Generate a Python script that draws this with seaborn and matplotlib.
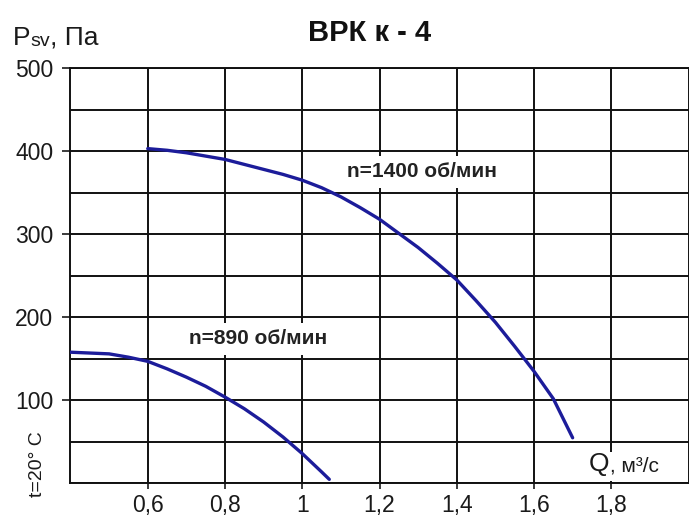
import numpy as np
import pandas as pd
import matplotlib
matplotlib.use("Agg")
import matplotlib.pyplot as plt
from matplotlib.ticker import MultipleLocator
import seaborn as sns

# fan curve at n=1400 rpm
q_1400 = [0.60, 0.65, 0.70, 0.75, 0.80, 0.85, 0.90, 0.95, 1.00, 1.05, 1.10, 1.15,
          1.20, 1.25, 1.30, 1.35, 1.40, 1.45, 1.50, 1.55, 1.60, 1.65, 1.70]
p_1400 = [403, 401, 398, 394, 390, 384, 378, 372, 365, 356, 345, 332,
          318, 301, 284, 265, 245, 220, 194, 165, 135, 102, 55]

# fan curve at n=890 rpm
q_890 = [0.40, 0.45, 0.50, 0.55, 0.60, 0.65, 0.70, 0.75, 0.80, 0.85, 0.90, 0.95, 1.00, 1.05, 1.07]
p_890 = [158, 157, 156, 152, 147, 138, 128, 117, 104, 90, 74, 56, 36, 14, 5]

x_ticks = [0.6, 0.8, 1.0, 1.2, 1.4, 1.6, 1.8]
x_labels = ["0,6", "0,8", "1", "1,2", "1,4", "1,6", "1,8"]
y_ticks = [100, 200, 300, 400, 500]
y_labels = ["100", "200", "300", "400", "500"]

df = pd.concat([
    pd.DataFrame({"Q": q_1400, "P": p_1400, "n": "1400"}),
    pd.DataFrame({"Q": q_890, "P": p_890, "n": "890"}),
])

sns.set_style("white")
plt.rcParams["font.family"] = ["Liberation Sans", "DejaVu Sans"]

line_col = "#1c1c9a"
ink = "#1a1a1a"

fig = plt.figure(figsize=(6.89, 5.2), dpi=100)
ax = fig.add_axes([0.1023, 0.0702, 0.8970, 0.799])

sns.lineplot(data=df, x="Q", y="P", hue="n", palette=[line_col, line_col],
             linewidth=2.4, legend=False, ax=ax, zorder=5, sort=False)

ax.set_xlim(0.4, 2.0)
ax.set_ylim(0, 500)
ax.set_xticks(x_ticks)
ax.set_xticklabels(x_labels)
ax.set_yticks(y_ticks)
ax.set_yticklabels(y_labels)
ax.yaxis.set_minor_locator(MultipleLocator(50))
ax.set_axisbelow(True)
ax.grid(True, which="both", color="#111111", linewidth=1.4)
ax.tick_params(axis="y", which="major", direction="out", length=5.8, width=1.2,
               pad=6.5, labelsize=16.5, colors=ink, left=True)
ax.tick_params(axis="y", which="minor", length=0)
ax.tick_params(axis="x", which="major", direction="out", length=4.3, width=1.2,
               pad=3.6, labelsize=16.5, colors=ink, bottom=True)
ax.set_xlabel("")
ax.set_ylabel("")
for s in ax.spines.values():
    s.set_visible(True)
    s.set_color("#111111")
    s.set_linewidth(1.4)

box = dict(boxstyle="square,pad=0.3", fc="white", ec="none")
ax.text(1.311, 375, "n=1400 об/мин", fontsize=15, fontweight="bold", color="#222222",
        ha="center", va="center", bbox=box, zorder=2)
ax.text(0.886, 174, "n=890 об/мин", fontsize=15, fontweight="bold", color="#222222",
        ha="center", va="center", bbox=box, zorder=2)

# title and axis captions
fig.text(0.5363, 0.9356, "ВРК к - 4", fontsize=21, fontweight="bold", color="#111111",
         ha="center", va="center")

p1 = fig.text(13 / 689, 1 - 45 / 520, "P", fontsize=19, color=ink, va="baseline")
p2 = ax.annotate("sv", xy=(1, 0), xycoords=p1, fontsize=14, color=ink, va="bottom")
ax.annotate(", Па", xy=(1, 0), xycoords=p2, fontsize=19, color=ink, va="bottom")

qbox = dict(boxstyle="square,pad=0.25", fc="white", ec="none")
q1 = ax.text(589 / 689, 1 - 471 / 520, "Q", fontsize=19, color=ink, va="baseline",
             transform=fig.transFigure, zorder=2.2)
ax.annotate(", м³/с", xy=(1, 0), xycoords=q1, fontsize=15, color=ink, va="bottom",
            bbox=qbox, zorder=2)

fig.text(38 / 689, 1 - 464 / 520, "t=20° C", fontsize=14, color=ink, rotation=90,
         ha="center", va="center")

fig.savefig("out.png", dpi=100)
